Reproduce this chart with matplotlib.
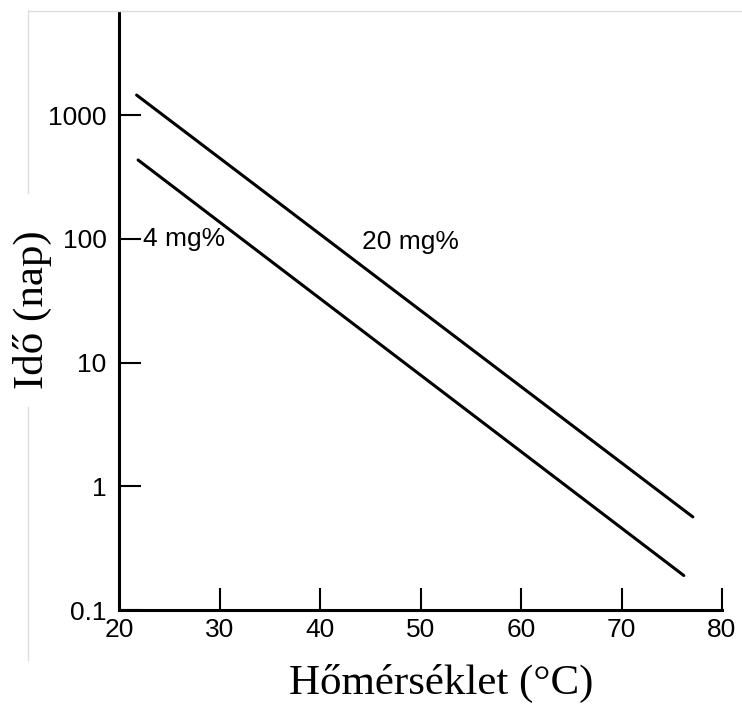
import matplotlib
matplotlib.use("Agg")
import matplotlib.pyplot as plt
from matplotlib.lines import Line2D

# Data
temp_20mg = [21.75, 77.1]
days_20mg = [1450, 0.565]
temp_4mg = [21.9, 76.2]
days_4mg = [433, 0.19]

x_ticks = [20, 30, 40, 50, 60, 70, 80]
x_ticklabels = ["20", "30", "40", "50", "60", "70", "80"]
y_ticks = [0.1, 1, 10, 100, 1000]
y_ticklabels = ["0.1", "1", "10", "100", "1000"]

label_4 = "4 mg%"
label_20 = "20 mg%"
xlabel = "Hőmérséklet (°C)"
ylabel = "Idő (nap)"

sans = ["Liberation Sans Narrow", "Liberation Sans", "DejaVu Sans"]
serif = ["Liberation Serif", "DejaVu Serif"]

W, H = 742, 707
fig = plt.figure(figsize=(W / 100, H / 100), dpi=100)
ax = fig.add_axes([119 / W, (H - 610) / H, (722 - 119) / W, (610 - 12) / H])

ax.set_yscale("log")
ax.set_xlim(20, 80)
ax.set_ylim(0.1, 6800)

ax.plot(temp_20mg, days_20mg, color="black", lw=2.2, solid_capstyle="round")
ax.plot(temp_4mg, days_4mg, color="black", lw=2.2, solid_capstyle="round")

ax.spines["top"].set_visible(False)
ax.spines["right"].set_visible(False)
ax.spines["left"].set_linewidth(2.2)
ax.spines["bottom"].set_linewidth(2.2)

ax.set_xticks(x_ticks)
ax.set_xticklabels(x_ticklabels, fontfamily=sans, fontsize=19)
ax.set_yticks(y_ticks)
ax.set_yticklabels(y_ticklabels, fontfamily=sans, fontsize=19)
ax.minorticks_off()
ax.tick_params(axis="both", direction="in", length=16, width=1.5, color="black")
ax.tick_params(axis="x", pad=6)
ax.tick_params(axis="y", pad=9)
# hide the tick at 20 (axis origin)
ax.xaxis.get_major_ticks()[0].tick1line.set_visible(False)

ax.text(22.4, 100, label_4, fontfamily=sans, fontsize=19, va="center", ha="left")
ax.text(44.2, 95, label_20, fontfamily=sans, fontsize=19, va="center", ha="left")

fig.text(441 / W, 1 - 694 / H, xlabel, fontfamily=serif, fontsize=31,
         ha="center", va="baseline")
fig.text(32 / W, 1 - 310 / H, ylabel, fontfamily=serif, fontsize=31,
         ha="center", va="center", rotation=90)

# faint frame remnants of the scanned figure
gray = "#dddddd"
fig.add_artist(Line2D([28 / W, 1], [1 - 11 / H, 1 - 11 / H], color=gray, lw=1))
fig.add_artist(Line2D([28 / W, 28 / W], [1 - 11 / H, 1 - 193 / H], color=gray, lw=1))
fig.add_artist(Line2D([28 / W, 28 / W], [1 - 407 / H, 1 - 660 / H], color=gray, lw=1))

fig.savefig("out.png", dpi=100)
